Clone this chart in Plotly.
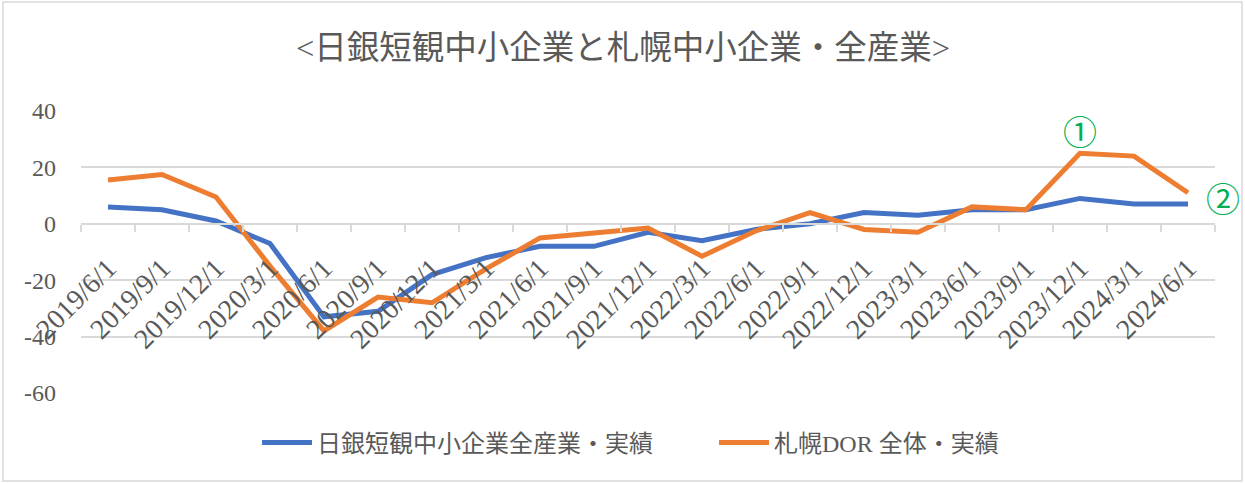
import plotly.graph_objects as go

dates = ["2019/6/1", "2019/9/1", "2019/12/1", "2020/3/1", "2020/6/1", "2020/9/1",
         "2020/12/1", "2021/3/1", "2021/6/1", "2021/9/1", "2021/12/1", "2022/3/1",
         "2022/6/1", "2022/9/1", "2022/12/1", "2023/3/1", "2023/6/1", "2023/9/1",
         "2023/12/1", "2024/3/1", "2024/6/1"]
boj_sme = [6, 5, 1, -7, -33, -31, -18, -12, -8, -8, -3, -6, -2, 0, 4, 3, 5, 5, 9, 7, 7]
sapporo_dor = [15.5, 17.5, 9.5, -15, -38, -26, -28, -16, -5, -3.3, -1.5, -11.5, -2.5, 4,
               -2, -3, 6, 5, 25, 24, 11]
y_ticks = [40, 20, 0, -20, -40, -60]
y_ticktext = ["40", "20", "0", "-20", "-40", "-60"]

title_text = "<日銀短観中小企業と札幌中小企業・全産業>"
name_boj = "日銀短観中小企業全産業・実績"
name_dor = "札幌DOR 全体・実績"

FONT = "Liberation Serif, Noto Sans CJK JP, serif"
GRAY = "#595959"
GRID = "#d9d9d9"

fig = go.Figure()
fig.add_trace(go.Scatter(x=dates, y=boj_sme, mode="lines", name=name_boj,
                         line=dict(color="#4472C4", width=5)))
fig.add_trace(go.Scatter(x=dates, y=sapporo_dor, mode="lines", name=name_dor,
                         line=dict(color="#ED7D31", width=5)))

W, H = 1245, 483
L, R, T, B = 81, 30, 111, 90
pw, ph = W - L - R, H - T - B

def px(x):
    return (x - L) / pw

def py(y):
    return (H - B - y) / ph

fig.update_layout(
    width=W, height=H,
    margin=dict(l=L, r=R, t=T, b=B, autoexpand=False),
    paper_bgcolor="white", plot_bgcolor="white",
    font=dict(family=FONT, color=GRAY, size=20),
    title=dict(text=title_text, x=px(623), xanchor="center", y=1 - 48 / H, yanchor="middle",
               xref="paper", font=dict(size=32.5, color=GRAY, family=FONT)),
    showlegend=True,
    legend=dict(orientation="h", x=px(257), xanchor="left", y=py(443), yanchor="middle",
                font=dict(size=24, color=GRAY, family=FONT), itemwidth=50,
                entrywidth=392, entrywidthmode="pixels",
                bgcolor="rgba(0,0,0,0)"),
    xaxis=dict(type="category", range=[-0.5, len(dates) - 0.5], anchor="free", position=0.6,
               showline=True, automargin=False,
               linecolor=GRID, linewidth=1.5, ticks="outside", tickson="boundaries",
               ticklen=7, tickcolor=GRID, tickwidth=1.5, tickangle=-45, showgrid=False,
               ticklabelstandoff=16,
               tickfont=dict(size=28, color=GRAY, family=FONT)),
    yaxis=dict(range=[-60, 40], tickvals=y_ticks, ticktext=y_ticktext, showgrid=True,
               automargin=False,
               gridcolor=GRID, gridwidth=1.5, zeroline=False, showline=False,
               ticklabelstandoff=24, tickfont=dict(size=24, color=GRAY, family=FONT)),
    annotations=[
        dict(x="2023/12/1", y=33, xref="x", yref="y", text="①", showarrow=False,
             font=dict(size=34, color="#00B050", family="Noto Sans CJK JP")),
        dict(x=px(1204), y=9.2, xref="paper", yref="y", xanchor="left", text="②",
             showarrow=False,
             font=dict(size=34, color="#00B050", family="Noto Sans CJK JP")),
    ],
    shapes=[dict(type="rect", xref="paper", yref="paper", x0=px(3), x1=px(1242),
                 y0=py(481), y1=py(2), line=dict(color=GRID, width=1.5),
                 fillcolor="rgba(0,0,0,0)", layer="below")],
)

fig.write_html("out.html", config={"displayModeBar": False},
               post_script="document.body.style.margin='0';document.body.style.overflow='hidden';")
